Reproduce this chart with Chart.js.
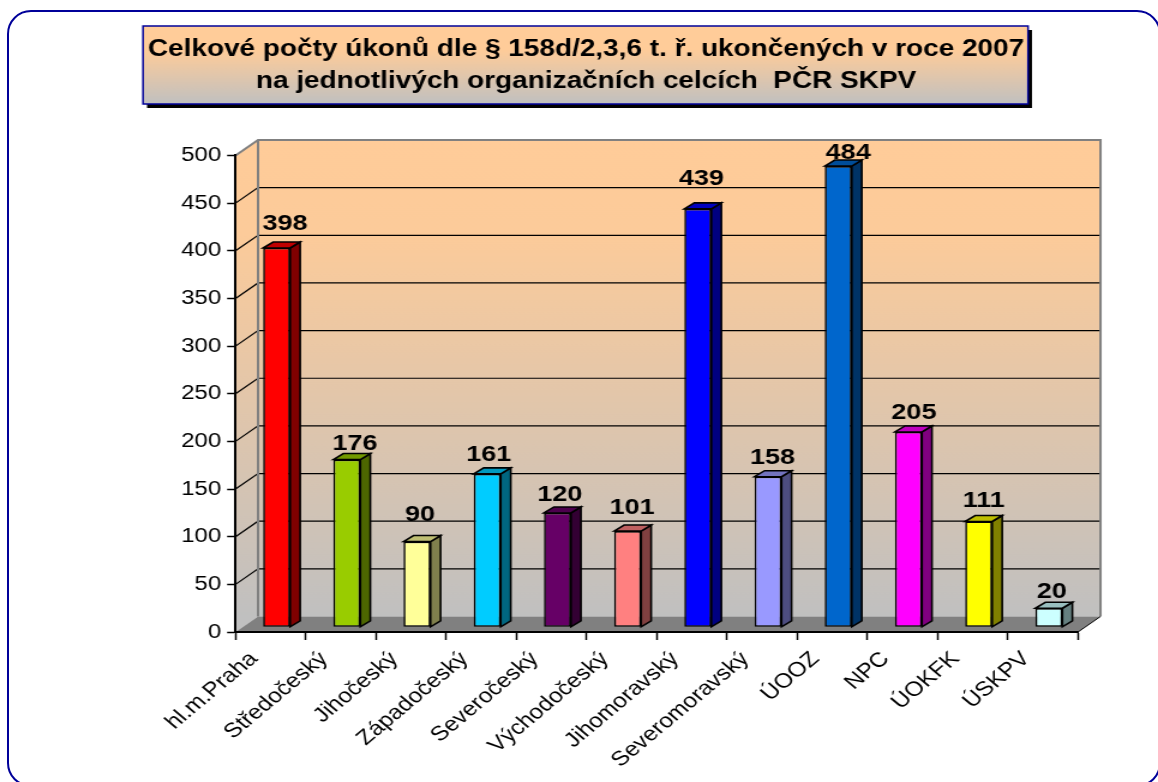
<!DOCTYPE html>
<html>
<head>
<meta charset="utf-8">
<script src="https://cdn.jsdelivr.net/npm/chart.js@4"></script>
<style>
  html, body { margin: 0; background: #fff; overflow: hidden; }
  #frame { position: absolute; left: 7px; top: 10px; width: 1154px; height: 777px; box-sizing: border-box; border: 2px solid #000099; border-radius: 24px; }
  /* the reference is stretched sideways, so the canvas is too */
  #pocty { position: absolute; left: 0; top: 0; transform-origin: 0 0; transform: scaleX(1.2); }
</style>
</head>
<body>
<div id="frame"></div>
<canvas id="pocty" width="965" height="782"></canvas>
<script>
const categories = ["hl.m.Praha", "Středočeský", "Jihočeský", "Západočeský", "Severočeský", "Východočeský", "Jihomoravský", "Severomoravský", "ÚOOZ", "NPC", "ÚOKFK", "ÚSKPV"];
const values = [398, 176, 90, 161, 120, 101, 439, 158, 484, 205, 111, 20];
const barColors = ["#FF0000", "#99CC00", "#FFFF99", "#00CCFF", "#660066", "#FF8080", "#0000FF", "#9999FF", "#0066CC", "#FF00FF", "#FFFF00", "#CCFFFF"];
const titleLines = ["Celkové počty úkonů dle § 158d/2,3,6 t. ř. ukončených v roce 2007", "na jednotlivých organizačních celcích  PČR SKPV"];

const sx = 1.2; // horizontal stretch of the canvas
const font = "'Liberation Sans', Arial, sans-serif";
// depth of the 3d box and of one bar
const wallDx = 22.5 / sx, wallDy = -15.5;
const barDx = 10 / sx, barDy = -6;
const barShiftX = 6 / sx, barShiftY = -4.7;
// hand placement of the value labels, screen px
const valueNudgeX = [4.5, 4, -1, -2.5, -1.5, 0.5, -0.5, 0.5, 6, 1.5, 1, -1];
const valueNudgeY = [-3, 5, -6, 2, 3, -2, -9, 2, 8, 2, 0, 5];

function shade(hex, f) {
  const n = parseInt(hex.slice(1), 16);
  const r = Math.round((n >> 16) * f), g = Math.round(((n >> 8) & 255) * f), b = Math.round((n & 255) * f);
  return `rgb(${r},${g},${b})`;
}

function poly(ctx, pts, fill, stroke, lw) {
  ctx.beginPath();
  pts.forEach((p, i) => (i ? ctx.lineTo(p[0], p[1]) : ctx.moveTo(p[0], p[1])));
  ctx.closePath();
  if (fill) { ctx.fillStyle = fill; ctx.fill(); }
  if (stroke) { ctx.strokeStyle = stroke; ctx.lineWidth = lw; ctx.stroke(); }
}

const box3d = {
  id: "box3d",
  beforeDraw(chart) {
    const ctx = chart.ctx, a = chart.chartArea, y = chart.scales.y;

    // title panel
    const tx = 143 / sx, tw = 885 / sx, ty = 26, th = 78;
    ctx.fillStyle = "#000";
    ctx.fillRect(tx + 4 / sx, ty + 4, tw, th);
    const tg = ctx.createLinearGradient(0, ty, 0, ty + th);
    tg.addColorStop(0, "#FFCC99");
    tg.addColorStop(0.3, "#FFCC99");
    tg.addColorStop(1, "#C0C0C0");
    ctx.fillStyle = tg;
    ctx.fillRect(tx, ty, tw, th);
    ctx.strokeStyle = "#000099";
    ctx.lineWidth = 1.5;
    ctx.strokeRect(tx, ty, tw, th);

    // walls
    const bl = a.left + wallDx, br = a.right + wallDx, bt = a.top + wallDy, bb = a.bottom + wallDy;
    const g = ctx.createLinearGradient(0, bt, 0, bb);
    g.addColorStop(0, "#FFCC99");
    g.addColorStop(0.2, "#FCCB9A");
    g.addColorStop(1, "#C0C0C0");
    poly(ctx, [[a.left, a.top], [bl, bt], [bl, bb], [a.left, a.bottom]], g);
    poly(ctx, [[bl, bt], [br, bt], [br, bb], [bl, bb]], g);

    // gridlines, along the side wall and across the back
    y.ticks.forEach((t) => {
      if (t.value === 0 || t.value === y.max) return;
      const py = y.getPixelForValue(t.value);
      ctx.beginPath();
      ctx.moveTo(a.left, py);
      ctx.lineTo(bl, py + wallDy);
      ctx.lineTo(br, py + wallDy);
      ctx.strokeStyle = "#000";
      ctx.lineWidth = 1.2;
      ctx.stroke();
    });

    // wall edges and floor
    ctx.beginPath();
    ctx.moveTo(a.left, a.top);
    ctx.lineTo(bl, bt);
    ctx.lineTo(br, bt);
    ctx.lineTo(br, bb);
    ctx.moveTo(bl, bt);
    ctx.lineTo(bl, bb);
    ctx.strokeStyle = "#808080";
    ctx.lineWidth = 2;
    ctx.stroke();
    poly(ctx, [[a.left, a.bottom], [bl, bb], [br, bb], [a.right, a.bottom]], "#808080");
    ctx.beginPath();
    ctx.moveTo(a.right, a.bottom);
    ctx.lineTo(br, bb);
    ctx.strokeStyle = "#000";
    ctx.lineWidth = 1;
    ctx.stroke();
  },
  beforeDatasetsDraw(chart) {
    const ctx = chart.ctx;
    ctx.save();
    ctx.translate(barShiftX, barShiftY);
    // the top and side faces go under the front face the library draws
    chart.getDatasetMeta(0).data.forEach((bar, i) => {
      const { x, y, base, width } = bar.getProps(["x", "y", "base", "width"], true);
      const l = x - width / 2, r = x + width / 2;
      poly(ctx, [[r, y], [r + barDx, y + barDy], [r + barDx, base + barDy], [r, base]], shade(barColors[i], 0.5), "#000", 1.6);
      poly(ctx, [[l, y], [l + barDx, y + barDy], [r + barDx, y + barDy], [r, y]], shade(barColors[i], 0.75), "#000", 1.6);
    });
  },
  afterDatasetsDraw(chart) {
    const ctx = chart.ctx;
    ctx.restore();
    ctx.fillStyle = "#000";
    ctx.font = `bold 22.5px ${font}`;
    ctx.textAlign = "center";
    ctx.textBaseline = "alphabetic";
    chart.getDatasetMeta(0).data.forEach((bar, i) => {
      const { x, y } = bar.getProps(["x", "y"], true);
      const lx = x + barShiftX + (4 + valueNudgeX[i]) / sx;
      const ly = y + barShiftY + barDy - 9 + valueNudgeY[i];
      ctx.fillText(values[i], lx, ly);
    });
  },
};

new Chart(document.getElementById("pocty"), {
  type: "bar",
  plugins: [box3d],
  data: {
    labels: categories,
    datasets: [{
      data: values,
      backgroundColor: barColors,
      borderColor: "#000",
      borderWidth: 1.6,
      borderSkipped: false,
      barPercentage: 0.385,
      categoryPercentage: 1,
      clip: false,
    }],
  },
  options: {
    responsive: false,
    animation: false,
    layout: { padding: { left: 78.4, right: 66.7, top: 0, bottom: 0 } },
    plugins: {
      legend: { display: false },
      tooltip: { enabled: false },
      title: {
        display: true,
        text: titleLines,
        color: "#000",
        font: { family: font, size: 23.3, weight: "bold", lineHeight: 1.373 },
        padding: { top: 34, bottom: 57.5 },
      },
    },
    scales: {
      x: {
        afterFit(scale) { scale.height = 150; },
        grid: { offset: true, drawOnChartArea: false, color: "#000", tickLength: 8, tickWidth: 1.5 },
        border: { color: "#000", width: 2 },
        ticks: {
          autoSkip: false,
          minRotation: 45,
          maxRotation: 45,
          labelOffset: -14,
          padding: 7,
          color: "#000",
          font: { family: font, size: 20.5 },
        },
      },
      y: {
        min: 0,
        max: 500,
        afterFit(scale) { scale.width = 117.85; },
        grid: { drawOnChartArea: false, color: "#000", tickLength: 7, tickWidth: 1.5 },
        border: { color: "#000", width: 2 },
        ticks: { stepSize: 50, padding: 5, color: "#000", font: { family: font, size: 20 } },
      },
    },
  },
});
</script>
</body>
</html>
